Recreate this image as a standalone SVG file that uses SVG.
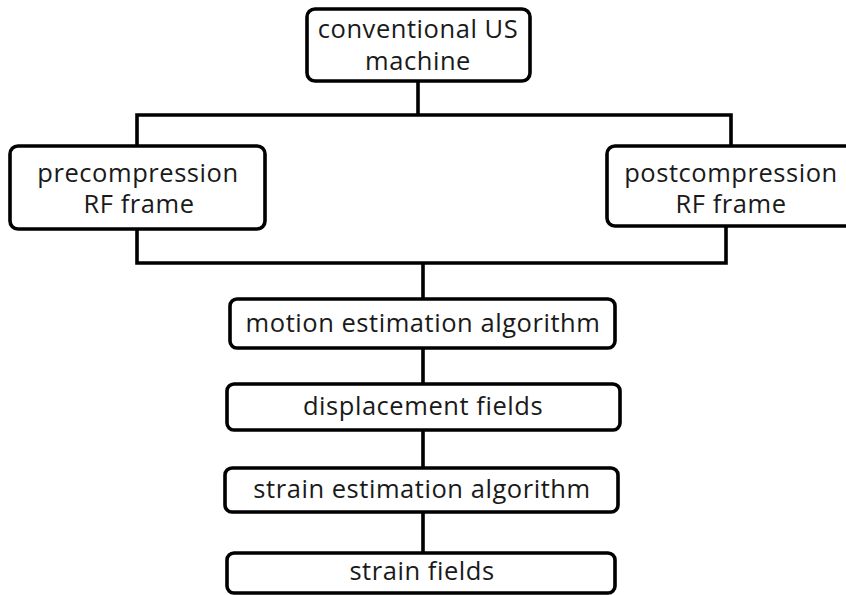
<svg xmlns="http://www.w3.org/2000/svg" width="846" height="595" viewBox="0 0 846 595">
<style>
.box{fill:#fff;stroke:#000;stroke-width:3.6}
.ln{fill:none;stroke:#000;stroke-width:3.6;stroke-linecap:square}
text{font-family:"Open Sans","Noto Sans",sans-serif;font-size:25.5px;letter-spacing:0.55px;fill:#1a1a1a;text-anchor:middle}
</style>
<rect width="846" height="595" fill="#fff"/>
<g id="connectors">
<path class="ln" d="M418,81 V115 M137,115 H731 M137,115 V147 M731,115 V147"/>
<path class="ln" d="M137,229 V263 M726,226 V263 M137,263 H726 M423,263 V299"/>
<path class="ln" d="M423,348 V384 M423,430 V468 M423,512 V553"/>
</g>
<g id="n_us">
<rect class="box" x="307" y="9" width="223" height="72" rx="8"/>
<text x="418" y="38">conventional US</text>
<text x="418" y="70">machine</text>
</g>
<g id="n_pre">
<rect class="box" x="10" y="146" width="255" height="83" rx="8"/>
<text x="138" y="182">precompression</text>
<text x="139" y="213">RF frame</text>
</g>
<g id="n_post">
<rect class="box" x="607" y="146" width="250" height="80" rx="8"/>
<text x="731" y="182">postcompression</text>
<text x="731" y="213">RF frame</text>
</g>
<g id="n_motion">
<rect class="box" x="230" y="299" width="385" height="49" rx="7"/>
<text x="423" y="332">motion estimation algorithm</text>
</g>
<g id="n_disp">
<rect class="box" x="227" y="384" width="393" height="46" rx="7"/>
<text x="423" y="415">displacement fields</text>
</g>
<g id="n_strainest">
<rect class="box" x="225" y="468" width="393" height="44" rx="7"/>
<text x="422" y="498">strain estimation algorithm</text>
</g>
<g id="n_strain">
<rect class="box" x="227" y="553" width="388" height="40" rx="7"/>
<text x="422" y="580">strain fields</text>
</g>
</svg>
